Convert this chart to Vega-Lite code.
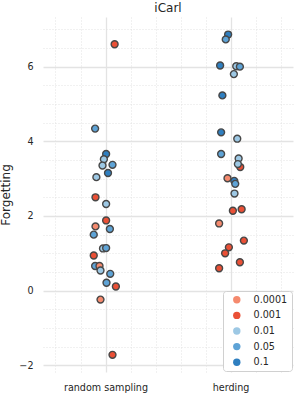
{
  "$schema": "https://vega.github.io/schema/vega-lite/v6.json",
  "autosize": "none",
  "width": 250,
  "height": 355,
  "padding": {"left": 43, "top": 17, "right": 1, "bottom": 22},
  "background": "white",
  "title": {"text": "iCarl", "fontSize": 12, "font": "DejaVu Sans", "fontWeight": "normal", "color": "#262626", "offset": 5, "dy": 3},
  "config": {
    "view": {"stroke": null},
    "font": "DejaVu Sans"
  },
  "data": {
    "values": [
      {"method": "random sampling", "pos": 0.073, "lr": "0.001", "forgetting": 6.60},
      {"method": "random sampling", "pos": -0.083, "lr": "0.05", "forgetting": 4.34},
      {"method": "random sampling", "pos": 0.005, "lr": "0.1", "forgetting": 3.66},
      {"method": "random sampling", "pos": -0.013, "lr": "0.01", "forgetting": 3.52},
      {"method": "random sampling", "pos": -0.024, "lr": "0.01", "forgetting": 3.35},
      {"method": "random sampling", "pos": 0.056, "lr": "0.05", "forgetting": 3.37},
      {"method": "random sampling", "pos": 0.02, "lr": "0.1", "forgetting": 3.15},
      {"method": "random sampling", "pos": -0.073, "lr": "0.01", "forgetting": 3.04},
      {"method": "random sampling", "pos": -0.08, "lr": "0.001", "forgetting": 2.50},
      {"method": "random sampling", "pos": 0.005, "lr": "0.01", "forgetting": 2.32},
      {"method": "random sampling", "pos": 0.005, "lr": "0.001", "forgetting": 1.88},
      {"method": "random sampling", "pos": -0.08, "lr": "0.0001", "forgetting": 1.72},
      {"method": "random sampling", "pos": 0.035, "lr": "0.05", "forgetting": 1.65},
      {"method": "random sampling", "pos": -0.094, "lr": "0.05", "forgetting": 1.50},
      {"method": "random sampling", "pos": -0.02, "lr": "0.01", "forgetting": 1.13},
      {"method": "random sampling", "pos": 0.005, "lr": "0.05", "forgetting": 1.14},
      {"method": "random sampling", "pos": -0.094, "lr": "0.001", "forgetting": 0.94},
      {"method": "random sampling", "pos": -0.083, "lr": "0.05", "forgetting": 0.66},
      {"method": "random sampling", "pos": -0.048, "lr": "0.0001", "forgetting": 0.66},
      {"method": "random sampling", "pos": -0.04, "lr": "0.01", "forgetting": 0.54},
      {"method": "random sampling", "pos": 0.038, "lr": "0.05", "forgetting": 0.45},
      {"method": "random sampling", "pos": 0.008, "lr": "0.05", "forgetting": 0.21},
      {"method": "random sampling", "pos": 0.083, "lr": "0.001", "forgetting": 0.11},
      {"method": "random sampling", "pos": -0.04, "lr": "0.0001", "forgetting": -0.24},
      {"method": "random sampling", "pos": 0.056, "lr": "0.001", "forgetting": -1.72},
      {"method": "herding", "pos": 0.981, "lr": "0.1", "forgetting": 6.86},
      {"method": "herding", "pos": 0.962, "lr": "0.05", "forgetting": 6.73},
      {"method": "herding", "pos": 0.917, "lr": "0.1", "forgetting": 6.03},
      {"method": "herding", "pos": 1.046, "lr": "0.01", "forgetting": 6.01},
      {"method": "herding", "pos": 1.075, "lr": "0.05", "forgetting": 6.00},
      {"method": "herding", "pos": 1.027, "lr": "0.01", "forgetting": 5.80},
      {"method": "herding", "pos": 0.935, "lr": "0.1", "forgetting": 5.23},
      {"method": "herding", "pos": 0.925, "lr": "0.1", "forgetting": 4.24},
      {"method": "herding", "pos": 1.054, "lr": "0.01", "forgetting": 4.07},
      {"method": "herding", "pos": 0.925, "lr": "0.05", "forgetting": 3.66},
      {"method": "herding", "pos": 1.078, "lr": "0.001", "forgetting": 3.31},
      {"method": "herding", "pos": 1.065, "lr": "0.01", "forgetting": 3.54},
      {"method": "herding", "pos": 1.059, "lr": "0.01", "forgetting": 3.39},
      {"method": "herding", "pos": 0.976, "lr": "0.0001", "forgetting": 3.01},
      {"method": "herding", "pos": 1.03, "lr": "0.1", "forgetting": 2.94},
      {"method": "herding", "pos": 1.038, "lr": "0.05", "forgetting": 2.86},
      {"method": "herding", "pos": 1.032, "lr": "0.01", "forgetting": 2.60},
      {"method": "herding", "pos": 1.019, "lr": "0.001", "forgetting": 2.14},
      {"method": "herding", "pos": 1.089, "lr": "0.001", "forgetting": 2.18},
      {"method": "herding", "pos": 0.909, "lr": "0.0001", "forgetting": 1.80},
      {"method": "herding", "pos": 1.107, "lr": "0.001", "forgetting": 1.34},
      {"method": "herding", "pos": 0.987, "lr": "0.001", "forgetting": 1.16},
      {"method": "herding", "pos": 0.957, "lr": "0.001", "forgetting": 1.00},
      {"method": "herding", "pos": 1.075, "lr": "0.001", "forgetting": 0.76},
      {"method": "herding", "pos": 0.909, "lr": "0.001", "forgetting": 0.60}
    ]
  },
  "mark": {"type": "point", "filled": true, "opacity": 1, "size": 48, "stroke": "#474747", "strokeWidth": 1.4},
  "encoding": {
    "x": {
      "field": "pos", "type": "quantitative",
      "scale": {"domain": [-0.5, 1.5], "nice": false, "zero": false},
      "axis": {
        "title": null,
        "values": [-0.4, -0.2, 0, 0.2, 0.4, 0.6, 0.8, 1, 1.2, 1.4],
        "labelExpr": "abs(datum.value) < 0.01 ? 'random sampling' : (abs(datum.value - 1) < 0.01 ? 'herding' : '')",
        "labelOverlap": false,
        "labelFontSize": 9.6,
        "labelColor": "#262626",
        "labelPadding": 10,
        "ticks": false,
        "domain": false,
        "grid": true,
        "gridColor": {"condition": {"test": "abs(datum.value) < 0.01 || abs(datum.value - 1) < 0.01", "value": "#e3e3e3"}, "value": "#e0e0e0"},
        "gridWidth": {"condition": {"test": "abs(datum.value) < 0.01 || abs(datum.value - 1) < 0.01", "value": 1.3}, "value": 0.9},
        "gridDash": {"condition": {"test": "abs(datum.value) < 0.01 || abs(datum.value - 1) < 0.01", "value": []}, "value": [1, 2]}
      }
    },
    "y": {
      "field": "forgetting", "type": "quantitative",
      "scale": {"domain": [-2.18, 7.33], "nice": false, "zero": false},
      "axis": {
        "title": "Forgetting",
        "titleFontSize": 12,
        "titleFontWeight": "normal",
        "titleColor": "#262626",
        "titlePadding": 6,
        "values": [-2, -1.5, -1, -0.5, 0, 0.5, 1, 1.5, 2, 2.5, 3, 3.5, 4, 4.5, 5, 5.5, 6, 6.5, 7],
        "labelExpr": "datum.value % 2 == 0 ? (datum.value < 0 ? '\u2212' + abs(datum.value) : '' + datum.value) : ''",
        "labelOverlap": false,
        "labelFontSize": 9.6,
        "labelColor": "#262626",
        "labelPadding": 10,
        "ticks": false,
        "domain": false,
        "grid": true,
        "gridColor": {"condition": {"test": "datum.value % 2 == 0", "value": "#e3e3e3"}, "value": "#e0e0e0"},
        "gridWidth": {"condition": {"test": "datum.value % 2 == 0", "value": 1.3}, "value": 0.9},
        "gridDash": {"condition": {"test": "datum.value % 2 == 0", "value": []}, "value": [1, 2]}
      }
    },
    "color": {
      "field": "lr", "type": "nominal",
      "scale": {"domain": ["0.0001", "0.001", "0.01", "0.05", "0.1"], "range": ["#f58a6e", "#ea5036", "#9dc8e4", "#5ea3d6", "#2f7fc0"]},
      "legend": {
        "title": null,
        "orient": "bottom-right",
        "offset": 1,
        "padding": 4,
        "symbolOffset": 5,
        "strokeColor": "#d0d0d0",
        "fillColor": "white",
        "cornerRadius": 3,
        "symbolType": "circle",
        "symbolSize": 55,
        "symbolStrokeWidth": 0,
        "labelFontSize": 9.6,
        "labelColor": "#262626",
        "labelOffset": 12,
        "rowPadding": 4.6
      }
    }
  }
}
